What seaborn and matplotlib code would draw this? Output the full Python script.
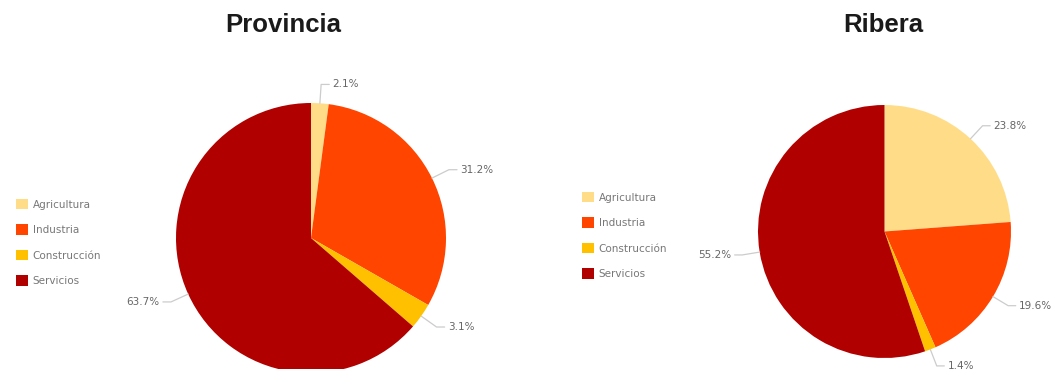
import numpy as np
import matplotlib
matplotlib.use("Agg")
import matplotlib.pyplot as plt
from matplotlib.patches import Patch
import seaborn as sns

# Employment share by sector
sectors = ["Agricultura", "Industria", "Construcción", "Servicios"]
provincia_pct = [2.1, 31.2, 3.1, 63.7]
ribera_pct = [23.8, 19.6, 1.4, 55.2]
titles = ["Provincia", "Ribera"]

sector_colors = sns.color_palette(["#FFDD88", "#FF4500", "#FFC000", "#B00000"])

sns.set_theme(style="white")
plt.rcParams["font.family"] = ["DejaVu Sans"]

W, H = 1053, 369
fig = plt.figure(figsize=(W / 100, H / 100), dpi=100)
fig.patch.set_facecolor("white")

LIM = 1.5


def pie_axes(cx, cy, r):
    """Axes whose unit circle sits at pixel centre (cx, cy) with radius r."""
    size = 2 * LIM * r
    left = (cx - size / 2) / W
    bottom = (H - cy - size / 2) / H
    ax = fig.add_axes([left, bottom, size / W, size / H])
    return ax


def draw_pie(ax, values):
    ax.pie(values, colors=sector_colors, startangle=90,
           counterclock=False, radius=1.0,
           wedgeprops=dict(linewidth=0))
    # pie() resets the limits, so fix them afterwards
    ax.set_xlim(-LIM, LIM)
    ax.set_ylim(-LIM, LIM)
    ax.axis("off")
    total = sum(values)
    start = 90.0
    for v in values:
        mid = np.deg2rad(start - v / total * 360 / 2)
        start -= v / total * 360
        c, s = np.cos(mid), np.sin(mid)
        bx, by = 1.14 * c, 1.14 * s
        side = 1 if c >= 0 else -1
        hx = bx + side * 0.06
        ax.plot([c, bx, hx], [s, by, by], color="#cccccc", lw=0.9,
                solid_capstyle="round", clip_on=False)
        ax.text(hx + side * 0.025, by, f"{v:.1f}%", fontsize=7.5,
                color="#666666", ha="left" if side > 0 else "right",
                va="center")


ax1 = pie_axes(311, 238, 135)
draw_pie(ax1, provincia_pct)
ax2 = pie_axes(884.5, 231.5, 126.5)
draw_pie(ax2, ribera_pct)

title_kw = dict(fontsize=18.5, fontweight="bold", color="#1a1a1a",
                family="Liberation Sans", ha="center", va="center")
fig.text(283 / W, 1 - 25 / H, titles[0], **title_kw)
fig.text(883 / W, 1 - 25 / H, titles[1], **title_kw)

handles = [Patch(facecolor=c, edgecolor="none") for c in sector_colors]
leg_kw = dict(frameon=False, fontsize=7.5, handlelength=1.15,
              handleheight=1.15, handletextpad=0.45, labelspacing=1.42,
              borderpad=0, borderaxespad=0, loc="upper left")
for (x, y) in [(16, 199), (582, 192)]:
    leg = fig.legend(handles, sectors, bbox_to_anchor=(x / W, 1 - y / H),
                     **leg_kw)
    for t in leg.get_texts():
        t.set_color("#777777")

fig.savefig("out.png", dpi=100, facecolor="white")
